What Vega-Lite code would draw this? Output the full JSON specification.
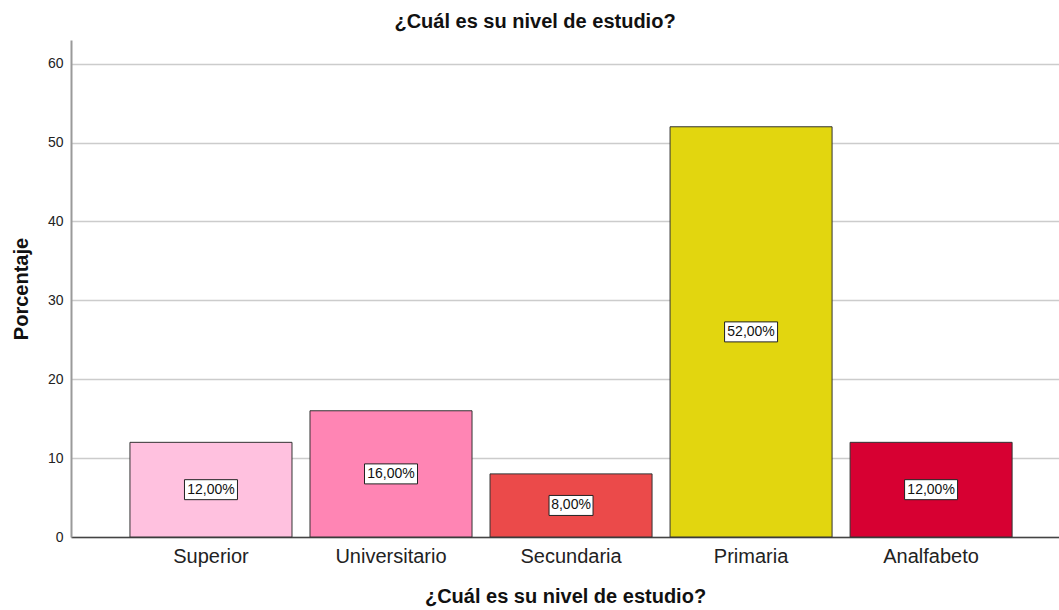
{
  "$schema": "https://vega.github.io/schema/vega-lite/v6.json",
  "width": 988,
  "height": 497,
  "autosize": "none",
  "padding": {"left": 71, "top": 40, "right": 0, "bottom": 73},
  "background": "white",
  "title": {"text": "¿Cuál es su nivel de estudio?", "font": "Liberation Sans", "fontSize": 20, "fontWeight": "bold", "color": "#111", "anchor": "middle", "dx": -30, "offset": 8},
  "data": {"values": [
    {"nivel": "Superior", "pct": 12, "label": "12,00%"},
    {"nivel": "Universitario", "pct": 16, "label": "16,00%"},
    {"nivel": "Secundaria", "pct": 8, "label": "8,00%"},
    {"nivel": "Primaria", "pct": 52, "label": "52,00%"},
    {"nivel": "Analfabeto", "pct": 12, "label": "12,00%"}
  ]},
  "encoding": {
    "x": {"field": "nivel", "type": "nominal", "sort": null,
      "scale": {"paddingInner": 0.1, "paddingOuter": 0.294, "align": 0.557},
      "axis": {"title": "¿Cuál es su nivel de estudio?", "labelAngle": 0, "labelFont": "Liberation Sans", "labelFontSize": 20, "labelColor": "#222", "labelPadding": 9, "ticks": false, "domainColor": "#444", "domainWidth": 1.5, "titleFont": "Liberation Sans", "titleFontSize": 20, "titleFontWeight": "bold", "titleColor": "#111", "titlePadding": 20}}
  },
  "layer": [
    {
      "mark": {"type": "bar", "stroke": "#333", "strokeWidth": 1},
      "encoding": {
        "y": {"field": "pct", "type": "quantitative",
          "scale": {"domain": [0, 63], "nice": false},
          "axis": {"title": "Porcentaje", "values": [0, 10, 20, 30, 40, 50, 60], "grid": true, "gridColor": "#cccccc", "gridWidth": 1.5, "ticks": false, "domainColor": "#9a9a9a", "domainWidth": 2, "labelFont": "Liberation Sans", "labelFontSize": 14, "labelColor": "#222", "labelPadding": 8, "titleFont": "Liberation Sans", "titleFontSize": 20, "titleFontWeight": "bold", "titleColor": "#111", "titlePadding": 16}},
        "color": {"field": "nivel", "type": "nominal", "legend": null,
          "scale": {"domain": ["Superior", "Universitario", "Secundaria", "Primaria", "Analfabeto"],
                    "range": ["#FFC1DF", "#FF85B4", "#EB4A4A", "#E2D60F", "#D70032"]}}
      }
    },
    {
      "transform": [{"calculate": "datum.pct / 2", "as": "mid"}],
      "mark": {"type": "point", "filled": true, "fill": "white", "stroke": "#222", "strokeWidth": 1, "opacity": 1, "fillOpacity": 1},
      "encoding": {
        "y": {"field": "mid", "type": "quantitative"},
        "shape": {"condition": {"test": "datum.pct < 10", "value": "M-1,-0.4545L1,-0.4545L1,0.4545L-1,0.4545Z"}, "value": "M-1,-0.377L1,-0.377L1,0.377L-1,0.377Z"},
        "size": {"condition": {"test": "datum.pct < 10", "value": 1936}, "value": 2809}
      }
    },
    {
      "transform": [{"calculate": "datum.pct / 2", "as": "mid"}],
      "mark": {"type": "text", "font": "Liberation Sans", "fontSize": 14, "color": "#111", "baseline": "middle", "align": "center"},
      "encoding": {
        "y": {"field": "mid", "type": "quantitative"},
        "text": {"field": "label"}
      }
    }
  ],
  "config": {"view": {"stroke": null}}
}
